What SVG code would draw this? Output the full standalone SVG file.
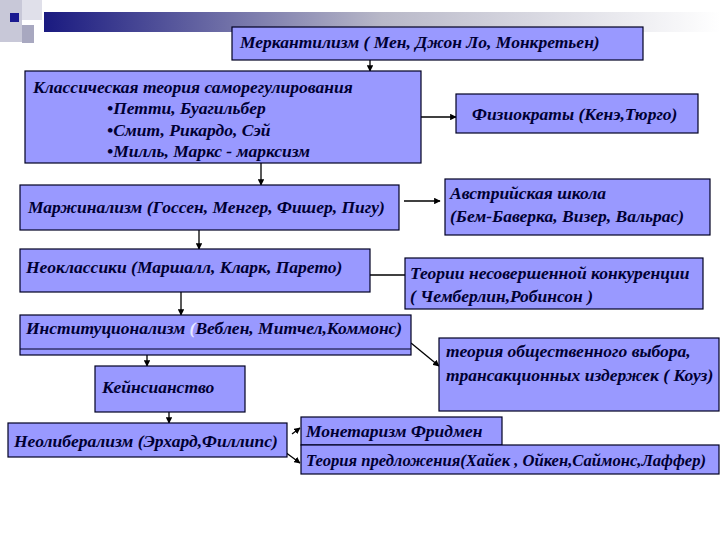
<svg xmlns="http://www.w3.org/2000/svg" width="720" height="540" viewBox="0 0 720 540">
<defs>
<linearGradient id="bar" x1="0" x2="1" y1="0" y2="0">
<stop offset="0" stop-color="#1a1a80"/><stop offset="0.5" stop-color="#b8b8c8"/><stop offset="1" stop-color="#ffffff"/>
</linearGradient>
<marker id="ah" viewBox="0 0 10 10" refX="9" refY="5" markerWidth="5" markerHeight="5" orient="auto"><path d="M0,0L10,5L0,10z" fill="#000"/></marker>
<style>
.b{fill:#9999ff;stroke:#000022;stroke-width:1.2}
.t{font-family:"Liberation Serif",serif;font-style:italic;font-weight:bold;font-size:17.5px;fill:#000033}
.c{stroke:#000;stroke-width:1.3;fill:none;marker-end:url(#ah)}
</style>
</defs>
<rect width="720" height="540" fill="#fff"/>
<g id="decor">
<rect x="44" y="12" width="676" height="20" fill="url(#bar)"/>
<rect x="0" y="0" width="22" height="42" fill="#c8c8d8"/>
<rect x="22" y="0" width="20" height="20" fill="#e0e0ea"/>
<rect x="22" y="25" width="12" height="18" fill="#a8a8c0"/>
<rect x="10" y="13" width="9" height="9" fill="#1a1a90"/>
</g>
<g id="connectors">
<line class="c" x1="370" y1="60" x2="370" y2="71"/>
<line class="c" x1="416" y1="117" x2="456" y2="117"/>
<line class="c" x1="261" y1="163" x2="261" y2="185"/>
<line class="c" x1="404" y1="201" x2="440" y2="201"/>
<line class="c" x1="199" y1="230" x2="199" y2="249"/>
<line x1="370" y1="275" x2="405" y2="275" stroke="#000" stroke-width="1.3"/>
<line class="c" x1="181" y1="292" x2="181" y2="315"/>
<line class="c" x1="411" y1="343" x2="439" y2="366"/>
<line class="c" x1="147" y1="355" x2="147" y2="366"/>
<line class="c" x1="169" y1="412" x2="169" y2="423"/>
<line class="c" x1="292" y1="434" x2="300" y2="428"/>
<line class="c" x1="285" y1="452" x2="300" y2="463"/>
</g>
<g id="merc"><rect class="b" x="232" y="27" width="411" height="33"/><text class="t" x="240" y="48">Меркантилизм  ( Мен, Джон Ло, Монкретьен)</text></g>
<g id="classic"><rect class="b" x="25" y="71" width="396" height="92"/>
<text class="t" x="33" y="93">Классическая теория  саморегулирования</text>
<text class="t" x="107" y="114">•Петти, Буагильбер</text>
<text class="t" x="107" y="136">•Смит, Рикардо, Сэй</text>
<text class="t" x="107" y="157">•Милль, Маркс - марксизм</text></g>
<g id="physio"><rect class="b" x="456" y="94" width="242" height="39"/><text class="t" x="472" y="120">Физиократы (Кенэ,Тюрго)</text></g>
<g id="margin"><rect class="b" x="20" y="185" width="379" height="45"/><text class="t" x="28" y="213">Маржинализм (Госсен, Менгер, Фишер, Пигу)</text></g>
<g id="austria"><rect class="b" x="445" y="179" width="265" height="56"/><text class="t" x="450" y="199">Австрийская школа</text><text class="t" x="450" y="222">(Бем-Баверка, Визер, Вальрас)</text></g>
<g id="neoclassic"><rect class="b" x="20" y="249" width="350" height="43"/><text class="t" x="26" y="273">Неоклассики (Маршалл, Кларк, Парето)</text></g>
<g id="imperfect"><rect class="b" x="405" y="258" width="298" height="51"/><text class="t" x="410" y="279">Теории несовершенной конкуренции</text><text class="t" x="410" y="302">( Чемберлин,Робинсон )</text></g>
<g id="inst"><rect class="b" x="20" y="315" width="391" height="40"/><line x1="20" y1="349" x2="411" y2="349" stroke="#000022" stroke-width="1.2"/><text class="t" x="26" y="334">Институционализм <tspan fill="#e8e8ff">(</tspan>Веблен, Митчел,Коммонс)</text></g>
<g id="public"><rect class="b" x="439" y="338" width="280" height="73"/><text class="t" x="446" y="357">теория общественного выбора,</text><text class="t" x="446" y="381">трансакционных издержек  ( Коуз)</text></g>
<g id="keynes"><rect class="b" x="95" y="366" width="150" height="46"/><text class="t" x="102" y="393">Кейнсианство</text></g>
<g id="neolib"><rect class="b" x="8" y="423" width="279" height="34"/><text class="t" x="14" y="447">Неолиберализм  (Эрхард,Филлипс)</text></g>
<g id="monet"><rect class="b" x="301" y="417" width="201" height="28"/><text class="t" x="306" y="437">Монетаризм Фридмен</text></g>
<g id="supply"><rect class="b" x="301" y="445" width="418" height="29"/><text class="t" x="306" y="466" textLength="400" lengthAdjust="spacingAndGlyphs">Теория предложения(Хайек , Ойкен,Саймонс,Лаффер)</text></g>
</svg>
